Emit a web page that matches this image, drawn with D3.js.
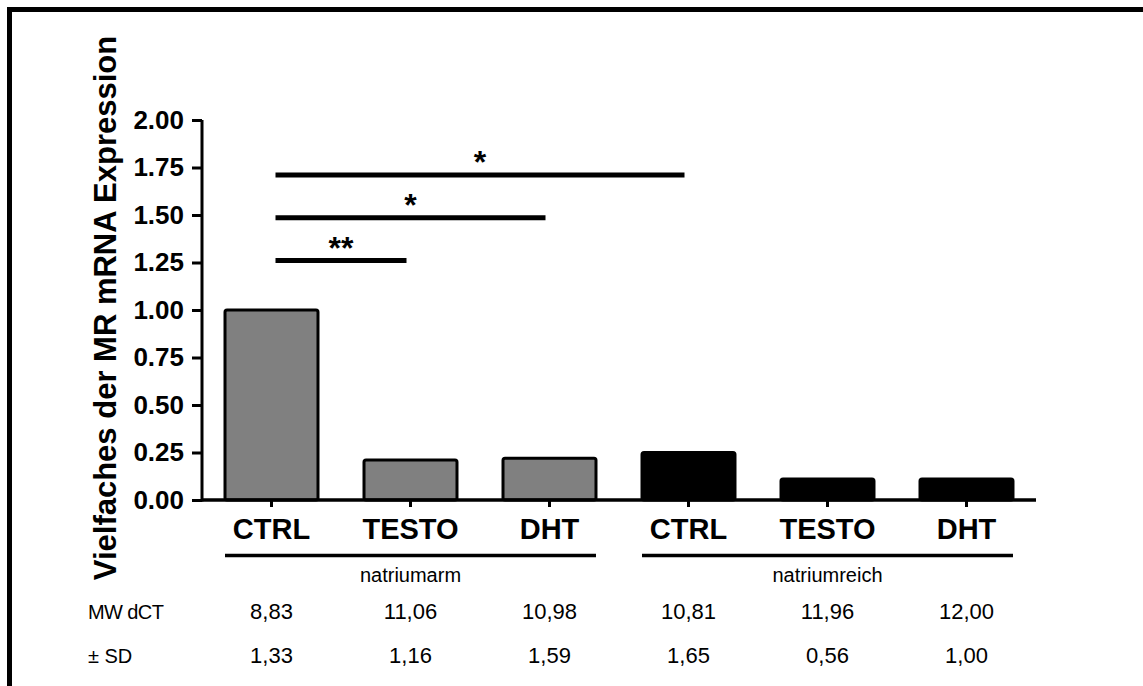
<!DOCTYPE html>
<html>
<head>
<meta charset="utf-8">
<script src="https://cdn.jsdelivr.net/npm/d3@7/dist/d3.min.js"></script>
<style>
  html, body { margin: 0; padding: 0; background: #fff; }
  svg { display: block; font-family: "Liberation Sans", Arial, sans-serif; }
</style>
</head>
<body>
<svg id="chart" width="1143" height="686"></svg>
<script>
// Relative MR mRNA expression per treatment group
const categories = ["CTRL", "TESTO", "DHT", "CTRL", "TESTO", "DHT"];
const groupOf    = ["natriumarm", "natriumarm", "natriumarm", "natriumreich", "natriumreich", "natriumreich"];
const foldChange = [1.00, 0.21, 0.22, 0.25, 0.11, 0.11];
const mwDct      = ["8,83", "11,06", "10,98", "10,81", "11,96", "12,00"];
const sdDct      = ["1,33", "1,16", "1,59", "1,65", "0,56", "1,00"];
const yTicks     = [0, 0.25, 0.5, 0.75, 1.0, 1.25, 1.5, 1.75, 2.0];
const groups     = ["natriumarm", "natriumreich"];
// significance brackets: [from bar, to bar, height, label]
const sigFrom  = [0, 0, 0];
const sigTo    = [1, 2, 3];
const sigLevel = [1.26, 1.485, 1.71];
const sigLabel = ["**", "*", "*"];

const svg = d3.select("#chart");
const idx = d3.range(categories.length);

const x = d3.scaleBand().domain(idx).range([202, 1036]).paddingInner(0.331).paddingOuter(0.1655);
const y = d3.scaleLinear().domain([0, 2]).range([500, 120]);
const cx = i => x(i) + x.bandwidth() / 2;

// outer frame (top and left edges)
svg.append("line").attr("x1", 7).attr("x2", 1143).attr("y1", 9.5).attr("y2", 9.5)
  .attr("stroke", "#000").attr("stroke-width", 5);
svg.append("line").attr("x1", 9.5).attr("x2", 9.5).attr("y1", 7).attr("y2", 686)
  .attr("stroke", "#000").attr("stroke-width", 5);

// bars
svg.append("g").selectAll("rect").data(idx).join("rect")
  .attr("x", i => x(i))
  .attr("width", x.bandwidth())
  .attr("y", i => y(foldChange[i]))
  .attr("height", i => y(0) - y(foldChange[i]))
  .attr("rx", 2)
  .attr("fill", i => groupOf[i] === "natriumarm" ? "#808080" : "#000")
  .attr("stroke", "#000")
  .attr("stroke-width", 3);

// y axis
const yAxis = svg.append("g").attr("transform", "translate(202,0)")
  .call(d3.axisLeft(y).tickValues(yTicks).tickFormat(d3.format(".2f")).tickSize(10).tickPadding(8));
yAxis.select(".domain").attr("stroke-width", 3).attr("d", `M0,${y(2)}V${y(0) + 1.5}`);
yAxis.selectAll(".tick line").attr("stroke-width", 3);
yAxis.selectAll(".tick text").attr("font-size", 26).attr("font-weight", "bold")
  .attr("fill", "#000").attr("font-family", "Liberation Sans, Arial, sans-serif");

// x axis
const xAxis = svg.append("g").attr("transform", `translate(0,${y(0)})`)
  .call(d3.axisBottom(x).tickFormat(i => categories[i]).tickSize(7).tickPadding(12));
xAxis.select(".domain").attr("stroke-width", 3.5).attr("d", "M202,0H1036");
xAxis.selectAll(".tick line").attr("stroke-width", 3);
xAxis.selectAll(".tick text").attr("font-size", 29).attr("font-weight", "bold")
  .attr("fill", "#000").attr("font-family", "Liberation Sans, Arial, sans-serif")
  .attr("dy", null).attr("y", 39);

// y axis title
svg.append("text")
  .attr("transform", "translate(116,308) rotate(-90)")
  .attr("text-anchor", "middle")
  .attr("font-size", 31).attr("font-weight", "bold")
  .text("Vielfaches der MR mRNA Expression");

// significance brackets
const sig = svg.append("g");
sigFrom.forEach((f, k) => {
  const x1 = cx(f) + 4, x2 = cx(sigTo[k]) - 4, yy = y(sigLevel[k]);
  sig.append("line").attr("x1", x1).attr("x2", x2).attr("y1", yy).attr("y2", yy)
    .attr("stroke", "#000").attr("stroke-width", 5);
  sig.append("text").attr("x", (x1 + x2) / 2).attr("y", yy - 2)
    .attr("text-anchor", "middle").attr("font-size", 32).attr("font-weight", "bold")
    .text(sigLabel[k]);
});

// group underlines and names
groups.forEach(g => {
  const members = idx.filter(i => groupOf[i] === g);
  const x0 = x(members[0]), x1 = x(members[members.length - 1]) + x.bandwidth();
  svg.append("line").attr("x1", x0).attr("x2", x1).attr("y1", 555.5).attr("y2", 555.5)
    .attr("stroke", "#000").attr("stroke-width", 3.5);
  svg.append("text").attr("x", (x0 + x1) / 2).attr("y", 582)
    .attr("text-anchor", "middle").attr("font-size", 20).text(g);
});

// dCT table below the chart
svg.append("text").attr("x", 88).attr("y", 619).attr("font-size", 20)
  .attr("letter-spacing", -0.6).text("MW dCT");
svg.append("text").attr("x", 88).attr("y", 663).attr("font-size", 20).text("± SD");
svg.append("g").selectAll("text").data(idx).join("text")
  .attr("x", cx).attr("y", 619).attr("text-anchor", "middle").attr("font-size", 22)
  .text(i => mwDct[i]);
svg.append("g").selectAll("text").data(idx).join("text")
  .attr("x", cx).attr("y", 663).attr("text-anchor", "middle").attr("font-size", 22)
  .text(i => sdDct[i]);
</script>
</body>
</html>
